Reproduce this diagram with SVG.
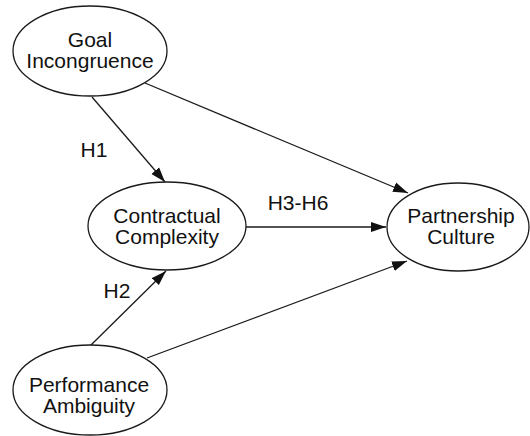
<svg xmlns="http://www.w3.org/2000/svg" width="530" height="436" viewBox="0 0 530 436">
<style>
.node ellipse{fill:#fff;stroke:#1a1a1a;stroke-width:1.3}
text{font-family:"Liberation Sans",Arial,sans-serif;font-size:21px;fill:#111;text-anchor:middle}
.edge{stroke:#1a1a1a;stroke-width:1.3;fill:none;marker-end:url(#arr)}
</style>
<defs>
<marker id="arr" markerUnits="userSpaceOnUse" markerWidth="16" markerHeight="11" refX="15" refY="5" orient="auto" viewBox="0 0 16 10">
<path d="M0,0 L15,5 L0,10 Z" fill="#111"/>
</marker>
</defs>
<rect width="530" height="436" fill="#fff"/>
<g id="connectors">
<line class="edge" x1="92" y1="97" x2="165" y2="182"/>
<line class="edge" x1="145" y1="83" x2="408" y2="193"/>
<line class="edge" x1="246" y1="227" x2="386" y2="227"/>
<line class="edge" x1="90" y1="346" x2="166" y2="271"/>
<line class="edge" x1="147" y1="358" x2="407" y2="261"/>
</g>
<g id="labels">
<text x="94" y="157">H1</text>
<text x="117" y="298">H2</text>
<text x="298" y="210">H3-H6</text>
</g>
<g id="goal" class="node">
<ellipse cx="90" cy="51" rx="77" ry="45"/>
<text x="90" y="47">Goal</text>
<text x="90" y="68">Incongruence</text>
</g>
<g id="contractual" class="node">
<ellipse cx="167" cy="226" rx="79" ry="44"/>
<text x="167" y="223">Contractual</text>
<text x="167" y="244">Complexity</text>
</g>
<g id="partnership" class="node">
<ellipse cx="458" cy="227" rx="71" ry="44"/>
<text x="461" y="223">Partnership</text>
<text x="461" y="244">Culture</text>
</g>
<g id="performance" class="node">
<ellipse cx="90" cy="390" rx="77" ry="45"/>
<text x="89" y="392">Performance</text>
<text x="89" y="413">Ambiguity</text>
</g>
</svg>
